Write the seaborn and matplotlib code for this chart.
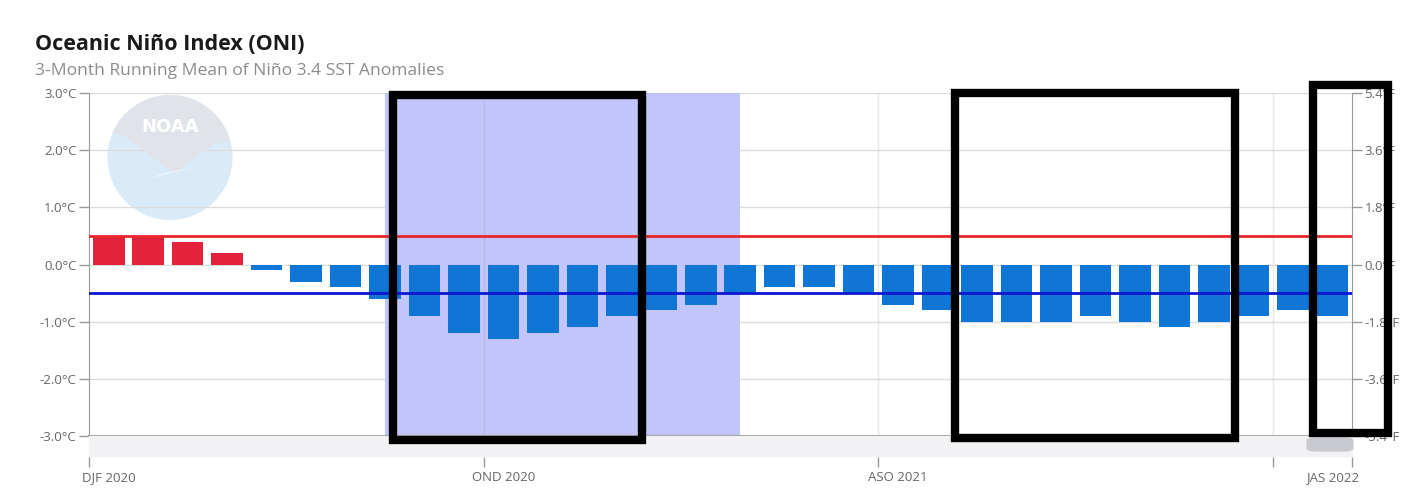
import numpy as np
import pandas as pd
import seaborn as sns
import matplotlib.pyplot as plt
from matplotlib.patches import Rectangle, FancyBboxPatch, Ellipse, Polygon

# ONI seasons, DJF 2020 .. JAS 2022
seasons = ['DJF 2020', 'JFM 2020', 'FMA 2020', 'MAM 2020', 'AMJ 2020', 'MJJ 2020',
           'JJA 2020', 'JAS 2020', 'ASO 2020', 'SON 2020', 'OND 2020', 'NDJ 2020',
           'DJF 2021', 'JFM 2021', 'FMA 2021', 'MAM 2021', 'AMJ 2021', 'MJJ 2021',
           'JJA 2021', 'JAS 2021', 'ASO 2021', 'SON 2021', 'OND 2021', 'NDJ 2021',
           'DJF 2022', 'JFM 2022', 'FMA 2022', 'MAM 2022', 'AMJ 2022', 'MJJ 2022',
           'JJA 2022', 'JAS 2022']
oni = [0.5, 0.5, 0.4, 0.2, -0.1, -0.3, -0.4, -0.6, -0.9, -1.2, -1.3, -1.2,
       -1.1, -0.9, -0.8, -0.7, -0.5, -0.4, -0.4, -0.5, -0.7, -0.8, -1.0, -1.0,
       -1.0, -0.9, -1.0, -1.1, -1.0, -0.9, -0.8, -0.9]
label_idx = [0, 10, 20, 31]
left_ticks = [-3, -2, -1, 0, 1, 2, 3]
right_ticks = [-5.4, -3.6, -1.8, 0.0, 1.8, 3.6, 5.4]
shade_start, shade_end = 7, 16   # La Nina episode shading (bar index)

df = pd.DataFrame({'season': seasons, 'oni': oni})
df['phase'] = np.where(df['oni'] > 0, 'warm', 'cool')

sns.set_style('white')
plt.rcParams['font.family'] = ['Open Sans', 'DejaVu Sans']

W, H = 1425, 491
fig = plt.figure(figsize=(W / 100, H / 100), dpi=100)
ax = fig.add_axes([89 / W, 1 - 436 / H, 1263 / W, 343 / H])

ax.axvspan(shade_start, shade_end, color='#c1c5fb', zorder=0.6, lw=0)

sns.barplot(data=df, x='season', y='oni', hue='phase',
            palette={'warm': '#e3233c', 'cool': '#0f76d6'},
            width=0.8, saturation=1, linewidth=0, legend=False, ax=ax, zorder=2)

ax.axhline(0.5, color='#e8262b', lw=2, zorder=3)
ax.axhline(-0.5, color='#0a16d0', lw=2, zorder=3)

ax.set_xlim(-0.5, len(seasons) - 0.5)
ax.set_ylim(-3, 3)
ax.set_yticks(left_ticks)
ax.set_yticklabels([f'{v:.1f}°C' for v in left_ticks])
ax.yaxis.grid(True, color='#dcdcdc', lw=1)
for x in [9.5, 19.5, 29.5]:
    ax.axvline(x, color='#888888', alpha=0.18, lw=1, zorder=1)
ax.set_xticks([])
ax.set_xlabel('')
ax.set_ylabel('')
ax.tick_params(axis='y', left=True, length=7, width=1, color='#999999',
               labelcolor='#666666', labelsize=9.5, pad=2)
for s in ['top', 'right']:
    ax.spines[s].set_visible(False)
ax.spines['left'].set_color('#999999')
ax.spines['bottom'].set_color('#999999')
ax.spines['bottom'].set_linewidth(1.5)
ax.set_axisbelow(True)

# NOAA watermark (rough), sized in pixels so it stays round
px_x = 1263 / len(seasons)   # pixels per bar slot
px_y = 343 / 6               # pixels per degree
cx, cy = (170 - 89) / px_x - 0.5, (265 - 158) / px_y
disc = Ellipse((cx, cy), 125 / px_x, 125 / px_y, color='#d9ebf8', lw=0, zorder=0.5)
ax.add_patch(disc)
gray = Polygon([(cx - 70 / px_x, cy + 70 / px_y), (cx + 70 / px_x, cy + 70 / px_y),
                (cx + 70 / px_x, cy + 16 / px_y), (cx + 45 / px_x, cy + 14 / px_y),
                (cx + 4 / px_x, cy - 16 / px_y), (cx - 46 / px_x, cy + 22 / px_y),
                (cx - 70 / px_x, cy + 26 / px_y)],
               closed=True, color='#e1e3eb', lw=0, zorder=0.52)
ax.add_patch(gray)
gray.set_clip_path(disc)
wing = Polygon([(cx - 25 / px_x, cy - 22 / px_y), (cx + 30 / px_x, cy - 8 / px_y),
                (cx - 5 / px_x, cy - 16 / px_y)], closed=True, color='white',
               lw=0, zorder=0.53)
ax.add_patch(wing)
ax.text(cx, cy + 31 / px_y, 'NOAA', color='white', fontsize=13, fontweight='bold',
        ha='center', va='center', zorder=0.55, family='DejaVu Sans')

# right-hand Fahrenheit axis
ax2 = ax.twinx()
ax2.set_ylim(-5.4, 5.4)
ax2.set_yticks(right_ticks)
ax2.set_yticklabels([f'{v:.1f}°F' for v in right_ticks])
ax2.tick_params(axis='y', right=True, length=7, width=1, color='#999999',
                labelcolor='#666666', labelsize=9.5, pad=2)
for s in ['top', 'left', 'bottom']:
    ax2.spines[s].set_visible(False)
ax2.spines['right'].set_color('#999999')

# date axis under the navigator band
sec = ax.secondary_xaxis(-21 / 343)
sec.set_xticks(label_idx)
sec.set_xticklabels([seasons[i] for i in label_idx])
sec.set_xticks([-0.5, 9.5, 19.5, 29.5, 31.5], minor=True)
sec.tick_params(axis='x', which='major', length=0, pad=10, labelsize=9.5,
                labelcolor='#666666')
sec.tick_params(axis='x', which='minor', length=7, width=1, color='#999999')
sec.spines['bottom'].set_visible(False)

# navigator band and scrollbar thumb
fig.patches.append(Rectangle((89 / W, 1 - 456 / H), 1263 / W, 20 / H,
                             transform=fig.transFigure, color='#f2f2f4', zorder=0))
fig.patches.append(FancyBboxPatch((1310 / W, 1 - 450 / H), 40 / W, 11 / H,
                                  boxstyle='round,pad=0.002,rounding_size=0.006',
                                  transform=fig.transFigure, color='#c9cacf', zorder=1))

fig.text(35 / W, 1 - 44 / H, 'Oceanic Niño Index (ONI)', fontsize=15.5,
         fontweight='bold', color='#1a1a1a', va='center')
fig.text(35 / W, 1 - 71 / H, '3-Month Running Mean of Niño 3.4 SST Anomalies',
         fontsize=12.6, color='#8c8c8c', va='center')

# highlight boxes
for x0, y0, x1, y1 in [(393, 95, 642, 440), (955, 93, 1235, 438), (1313, 85, 1388, 433)]:
    fig.patches.append(Rectangle((x0 / W, 1 - y1 / H), (x1 - x0) / W,
                                 (y1 - y0) / H, transform=fig.transFigure,
                                 fill=False, ec='black', lw=6, zorder=10))

fig.savefig('out.png', dpi=100)
